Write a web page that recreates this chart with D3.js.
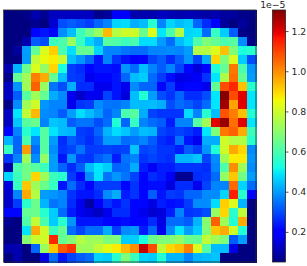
<!DOCTYPE html>
<html><head><meta charset="utf-8">
<script src="https://cdn.jsdelivr.net/npm/d3@7/dist/d3.min.js"></script>
<style>html,body{margin:0;padding:0;background:#fff;overflow:hidden}svg{display:block}text{font-family:"DejaVu Sans",sans-serif}</style>
</head><body><div id="c"></div>
<script>
// cell values in units of 1e-7 (row by row, top to bottom)
const heat = [
[5,5,6,10,7,12,12,12,12,12,6,8,19,19,10,10,10,12,11,10,11,10,9,10,8,8,6,6],
[5,5,5,7,5,14,30,32,30,28,33,37,47,48,42,44,55,37,47,44,46,33,26,21,8,5,8,5],
[5,5,5,21,23,20,38,44,58,65,72,94,76,80,80,65,82,49,60,76,47,48,34,57,46,32,6,5],
[5,5,10,32,30,58,60,72,57,47,42,62,61,58,60,48,48,40,34,44,48,61,68,64,60,62,38,6],
[5,8,40,64,82,91,60,48,64,64,47,37,37,35,34,34,37,37,38,37,40,76,76,82,93,68,53,55],
[5,5,40,78,84,87,79,44,39,33,23,37,27,23,20,21,29,32,26,32,39,29,42,90,68,82,46,30],
[10,43,65,82,71,90,53,28,26,21,23,23,22,39,34,44,37,32,37,29,21,15,21,54,64,103,60,39],
[6,64,73,102,96,64,44,28,27,17,21,21,23,33,44,46,34,28,22,16,17,18,27,49,75,104,64,40],
[12,39,73,106,72,35,30,42,26,26,17,17,23,17,38,33,33,21,28,18,21,21,17,64,109,114,93,55],
[12,32,62,73,64,42,38,17,13,17,17,29,23,15,44,54,40,30,27,33,26,26,30,49,130,109,120,49],
[6,38,73,80,39,37,37,17,27,28,38,35,35,37,44,44,44,42,30,34,32,29,34,49,127,97,120,49],
[12,49,78,94,38,37,32,40,48,44,40,33,37,60,62,42,29,27,27,27,48,37,55,44,108,102,93,54],
[12,45,62,65,37,45,44,32,35,35,30,34,54,33,57,37,34,32,24,37,37,62,73,120,128,104,120,49],
[20,37,55,49,62,49,44,43,28,27,33,43,48,45,40,44,43,29,27,29,27,24,49,68,103,106,96,58],
[43,33,60,38,62,40,26,32,29,26,30,40,40,34,35,37,32,26,24,35,23,17,42,42,80,76,76,55],
[57,33,98,34,62,38,27,29,35,28,28,29,28,29,45,29,30,27,27,24,32,28,39,54,80,96,90,38],
[27,37,73,38,71,40,23,39,28,27,32,35,24,35,37,27,29,27,26,43,43,45,29,38,73,87,87,39],
[10,60,66,62,58,40,33,26,32,44,49,46,33,34,42,24,18,24,24,27,27,27,26,37,61,100,73,38],
[47,58,66,90,73,58,55,28,21,38,49,35,39,35,29,21,26,24,18,7,7,26,27,34,71,92,66,40],
[15,57,92,73,65,57,23,34,26,21,28,28,28,21,27,21,22,22,15,26,26,17,29,37,37,105,47,34],
[13,37,96,76,40,39,37,27,23,23,26,38,42,24,27,21,32,23,28,27,33,33,38,38,47,115,55,21],
[13,28,55,65,43,35,37,26,17,9,18,27,23,27,21,21,16,24,22,23,28,38,38,48,91,82,43,5],
[21,21,64,65,55,46,34,24,17,15,12,17,26,26,21,17,14,15,24,37,27,28,30,72,90,55,78,5],
[7,5,61,78,60,46,55,39,23,23,23,21,21,22,21,21,26,16,34,34,32,43,69,106,73,54,96,5],
[5,5,49,96,80,57,64,34,29,34,34,42,28,38,39,24,33,17,38,49,40,46,68,92,96,80,54,5],
[5,5,69,79,80,114,64,69,76,73,73,68,68,46,46,53,65,68,68,71,65,64,78,73,68,32,40,5],
[10,10,5,33,72,92,107,112,73,73,78,83,87,94,100,123,109,78,90,93,102,82,62,44,44,16,5,5],
[5,10,5,5,17,34,23,29,32,34,47,46,55,68,58,47,46,54,43,43,37,43,44,45,5,5,5,5]
];
const colorbarTicks = [0.2,0.4,0.6,0.8,1.0,1.2];
const tickLabels = ["0.2","0.4","0.6","0.8","1.0","1.2"];
const offsetText = "1e\u22125";
const valueDomain = [0.05,1.305];

const jetStops = [[0,"#000080"],[0.11,"#0000ff"],[0.125,"#0000ff"],[0.35,"#00e5ff"],[0.375,"#14ffe3"],[0.64,"#f1fc06"],[0.66,"#ffe600"],[0.89,"#ff1200"],[0.91,"#e80000"],[1,"#800000"]];
const jetT = d3.scaleLinear().domain(jetStops.map(d=>d[0])).range(jetStops.map(d=>d[1])).interpolate(d3.interpolateRgb);
const color = v => jetT((v-valueDomain[0])/(valueDomain[1]-valueDomain[0]));

const W=307,H=266;
const plot={l:3.5,t:10,r:256,b:262};
const bar={l:272.5,r:285.5};
const svg=d3.select("#c").append("svg").attr("width",W).attr("height",H);
const x=d3.scaleBand().domain(d3.range(28)).range([plot.l,plot.r]);
const y=d3.scaleBand().domain(d3.range(28)).range([plot.t,plot.b]);
const cells=heat.flatMap((row,r)=>row.map((v,c)=>({r,c,v:v/100})));
svg.append("g").attr("shape-rendering","crispEdges").selectAll("rect").data(cells).join("rect")
 .attr("x",d=>x(d.c)).attr("y",d=>y(d.r)).attr("width",x.bandwidth()+0.5).attr("height",y.bandwidth()+0.5)
 .attr("fill",d=>color(d.v));
const ink="#262626";
svg.append("rect").attr("x",plot.l).attr("y",plot.t).attr("width",plot.r-plot.l).attr("height",plot.b-plot.t)
 .attr("fill","none").attr("stroke",ink).attr("stroke-width",0.8);

const defs=svg.append("defs");
const grad=defs.append("linearGradient").attr("id","jet").attr("x1",0).attr("x2",0).attr("y1",1).attr("y2",0);
jetStops.forEach(s=>grad.append("stop").attr("offset",s[0]).attr("stop-color",s[1]));
svg.append("rect").attr("x",bar.l).attr("y",plot.t).attr("width",bar.r-bar.l).attr("height",plot.b-plot.t)
 .attr("fill","url(#jet)").attr("stroke",ink).attr("stroke-width",0.8);
const cy=d3.scaleLinear().domain(valueDomain).range([plot.b,plot.t]);
const axis=d3.axisRight(cy).tickValues(colorbarTicks).tickFormat((d,i)=>tickLabels[i]).tickSize(3).tickPadding(3);
const g=svg.append("g").attr("transform",`translate(${bar.r},0)`).call(axis);
g.select(".domain").remove();
g.selectAll(".tick line").attr("stroke",ink).attr("stroke-width",0.8);
g.selectAll(".tick text").attr("fill",ink).attr("font-size",9.3).attr("font-family",'"DejaVu Sans"');
svg.append("text").attr("x",285.5).attr("y",8).attr("text-anchor","end").attr("fill",ink).attr("font-size",9.3).text(offsetText);
</script></body></html>
